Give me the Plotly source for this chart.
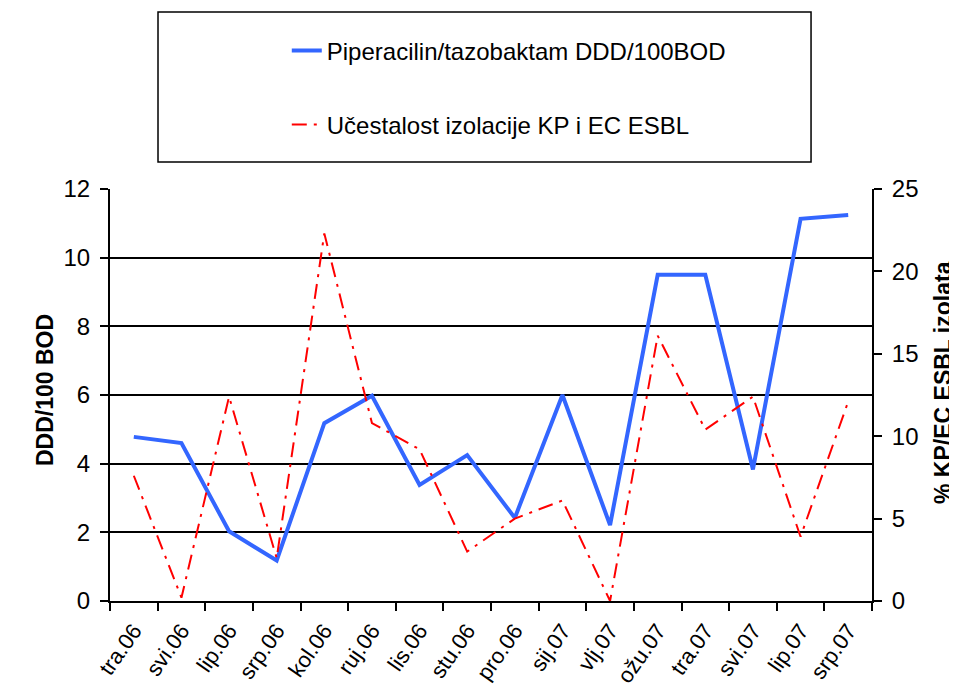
import plotly.graph_objects as go

months = ["tra.06", "svi.06", "lip.06", "srp.06", "kol.06", "ruj.06", "lis.06", "stu.06",
          "pro.06", "sij.07", "vlj.07", "ožu.07", "tra.07", "svi.07", "lip.07", "srp.07"]
ddd = [4.78, 4.6, 2.03, 1.18, 5.18, 5.98, 3.38, 4.25, 2.42, 6.0, 2.21, 9.5, 9.5, 3.83, 11.13, 11.24]
esbl = [7.6, 0.2, 12.4, 2.6, 22.3, 10.8, 9.2, 3.0, 5.0, 6.1, 0.0, 16.1, 10.4, 12.4, 3.9, 12.1]

name_ddd = "Piperacilin/tazobaktam DDD/100BOD"
name_esbl = "Učestalost izolacije KP i EC ESBL"

FONT = "Liberation Sans, Arial, sans-serif"

fig = go.Figure()
fig.add_trace(go.Scatter(x=months, y=ddd, name=name_ddd, mode="lines",
                         legendgroup="a",
                         line=dict(color="#3366FF", width=4)))
fig.add_trace(go.Scatter(x=months, y=esbl, name=name_esbl, mode="lines",
                         legendgroup="b", yaxis="y2",
                         line=dict(color="#FF0000", width=2, dash="15px,7px,3px,7px")))

# legend frame
fig.add_shape(type="rect", xref="paper", yref="paper",
              x0=0.063, x1=0.92, y0=1.0655, y1=1.4296,
              line=dict(color="black", width=1.5), fillcolor="rgba(0,0,0,0)")

fig.add_annotation(text="<b>DDD/100 BOD</b>", xref="paper", yref="paper",
                   x=-0.105, y=0.512, textangle=-90, showarrow=False,
                   font=dict(size=23, family=FONT, color="black"))
fig.add_annotation(text="<b>% KP/EC ESBL izolata</b>", xref="paper", yref="paper",
                   x=1.112, y=0.53, textangle=-90, showarrow=False,
                   font=dict(size=23, family=FONT, color="black"))

# page body has an 8px margin, so shift margins to keep the plot area in place
fig.update_layout(
    width=957, height=684,
    margin=dict(l=102, r=93, t=181, b=91),
    plot_bgcolor="white", paper_bgcolor="white",
    font=dict(family=FONT, color="black", size=20),
    showlegend=True,
    legend=dict(x=0.232, y=1.39, xanchor="left", yanchor="top",
                font=dict(size=24, family=FONT), tracegroupgap=40,
                bgcolor="rgba(0,0,0,0)", borderwidth=0),
    xaxis=dict(type="category", range=[-0.5, 15.5], tickson="boundaries",
               ticks="outside", ticklen=8, tickwidth=1.5, tickcolor="black",
               showline=True, linecolor="black", linewidth=2, tickangle=-55,
               tickfont=dict(size=22), ticklabelstandoff=6,
               automargin=False, showgrid=False),
    yaxis=dict(range=[0, 12], dtick=2, ticks="outside", ticklen=8, tickwidth=1.5,
               tickcolor="black", showline=True, linecolor="black", linewidth=2,
               showgrid=True, gridcolor="black", gridwidth=1.5, zeroline=False,
               tickfont=dict(size=24), ticklabelstandoff=5, automargin=False),
    yaxis2=dict(range=[0, 25], dtick=5, overlaying="y", side="right", ticks="outside",
                ticklen=8, tickwidth=1.5, tickcolor="black", showline=True,
                linecolor="black", linewidth=2, showgrid=False, zeroline=False,
                tickfont=dict(size=24), ticklabelstandoff=5, automargin=False),
)

fig.write_html("out.html")
